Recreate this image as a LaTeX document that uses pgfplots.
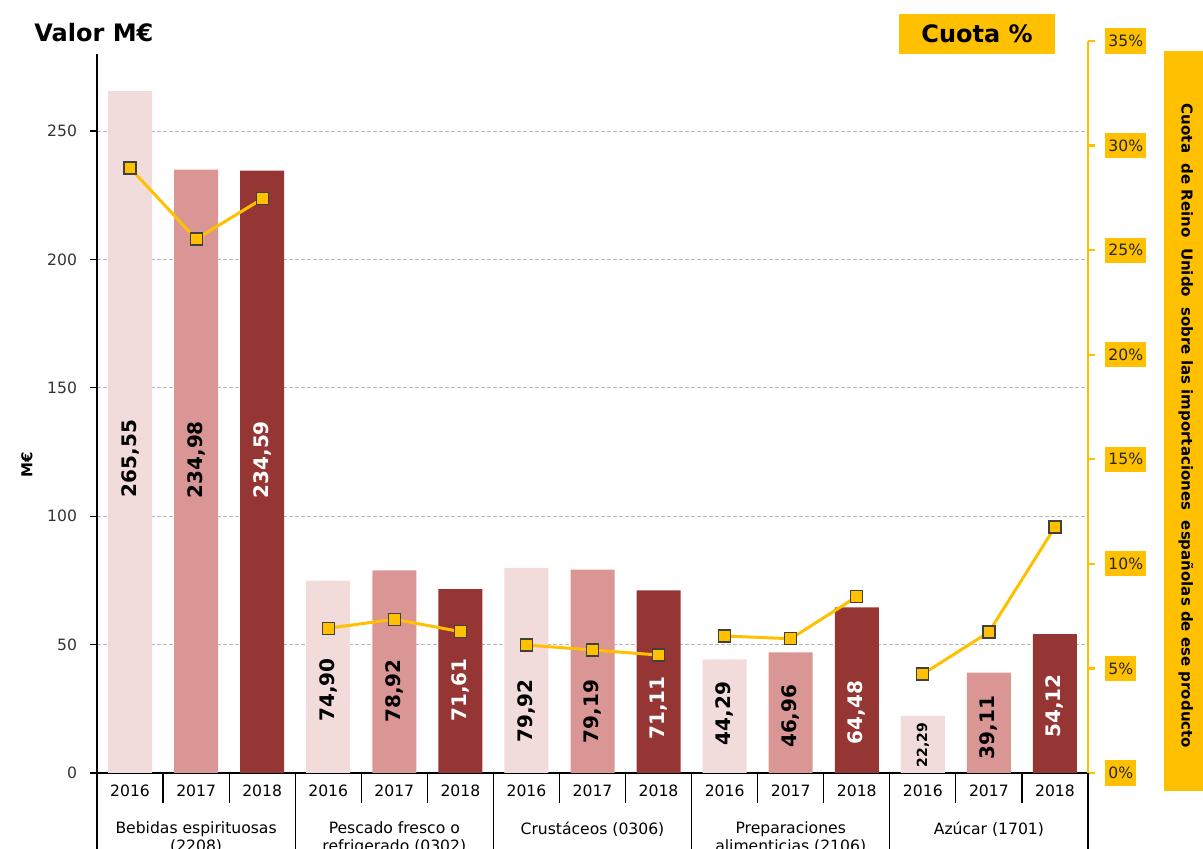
\documentclass[border=0pt]{standalone}
\usepackage{fontspec}
\setmainfont{DejaVu Sans}
\usepackage{pgfplots}
\pgfplotsset{compat=1.18}
\definecolor{c16}{HTML}{F2DCDB}
\definecolor{c17}{HTML}{DA9694}
\definecolor{c18}{HTML}{963634}
\definecolor{gold}{HTML}{FFC000}
\newcommand{\tickfont}{\fontsize{7.8}{9}\selectfont}
\pgfplotsset{share/.style={gold, line width=1.5pt,
    mark=square*, mark size=3pt,
    mark options={fill=gold, draw=black!75, line width=0.6pt, solid}}}

\begin{document}
\begin{tikzpicture}[x=0.5pt,y=0.5pt]
% main axis: values in M€
\begin{axis}[
  at={(48.5pt,38pt)}, anchor=south west,
  scale only axis, width=495.5pt, height=359.5pt,
  xmin=-0.5, xmax=14.5, ymin=0, ymax=280,
  axis x line*=bottom, axis y line*=left,
  axis line style={black, line width=0.6pt, -},
  xtick={0,...,14},
  xticklabels={2016,2017,2018,2016,2017,2018,2016,2017,2018,2016,2017,2018,2016,2017,2018},
  major x tick style={draw=none},
  ytick={0,50,100,150,200,250},
  yticklabels={0,50,100,150,200,250},
  tick align=outside, major tick length=3.5pt,
  y tick style={black, line width=0.6pt},
  ymajorgrids, grid style={dash pattern=on 2pt off 1pt, gray!55, line width=0.4pt},
  tick label style={font=\tickfont},
  yticklabel style={text=black!80, xshift=-3pt},
  xticklabel style={yshift=1pt},
  clip=false,
]
\addplot[ybar, bar width=22pt, bar shift=0pt, fill=c16, draw=none]
  coordinates {(0,265.55)(3,74.90)(6,79.92)(9,44.29)(12,22.29)};
\addplot[ybar, bar width=22pt, bar shift=0pt, fill=c17, draw=none]
  coordinates {(1,234.98)(4,78.92)(7,79.19)(10,46.96)(13,39.11)};
\addplot[ybar, bar width=22pt, bar shift=0pt, fill=c18, draw=none]
  coordinates {(2,234.59)(5,71.61)(8,71.11)(11,64.48)(14,54.12)};
% value labels
\addplot[draw=none, mark=none, nodes near coords, point meta=explicit symbolic,
  nodes near coords style={rotate=90, anchor=center, text=black,
    font=\bfseries\fontsize{10}{12}\selectfont}]
  table[meta=lab] {
x y lab
0 122.5 265,55
1 122 234,98
3 32.3 74,90
4 32 78,92
6 24.1 79,92
7 23.9 79,19
9 23.2 44,29
10 22.1 46,96
13 17.7 39,11
};
\addplot[draw=none, mark=none, nodes near coords, point meta=explicit symbolic,
  nodes near coords style={rotate=90, anchor=center, text=white,
    font=\bfseries\fontsize{10}{12}\selectfont}]
  table[meta=lab] {
x y lab
2 122 234,59
5 32.3 71,61
8 25.3 71,11
11 23.6 64,48
14 26.1 54,12
};
\addplot[draw=none, mark=none, nodes near coords, point meta=explicit symbolic,
  nodes near coords style={rotate=90, anchor=center, text=black,
    font=\bfseries\fontsize{7}{9}\selectfont}]
  table[meta=lab] {
x y lab
12 10.9 22,29
};
\end{axis}

% secondary axis: share in %
\begin{axis}[
  at={(48.5pt,38pt)}, anchor=south west,
  scale only axis, width=495.5pt, height=366pt,
  xmin=-0.5, xmax=14.5, ymin=0, ymax=35,
  axis x line=none, axis y line*=right,
  axis line style={gold, line width=1.2pt, -},
  ytick={0,5,...,35},
  yticklabels={0\%,5\%,10\%,15\%,20\%,25\%,30\%,35\%},
  tick align=outside, major tick length=3.5pt,
  y tick style={gold, line width=1.2pt},
  yticklabel style={font=\tickfont, fill=gold, text=black!85,
    inner xsep=1.5pt, minimum height=10pt, anchor=west, xshift=5pt},
  clip=false,
]
\addplot[share] coordinates {(0,28.93)(1,25.53)(2,27.45)};
\addplot[share] coordinates {(3,6.92)(4,7.35)(5,6.76)};
\addplot[share] coordinates {(6,6.12)(7,5.88)(8,5.64)};
\addplot[share] coordinates {(9,6.55)(10,6.42)(11,8.43)};
\addplot[share] coordinates {(12,4.73)(13,6.74)(14,11.76)};
\end{axis}

% category table under the axis
\foreach \k in {1,2,4,5,7,8,10,11,13,14}
  \draw[black, line width=0.6pt] (97+\k*66.0667,76) -- ++(0,-30);
\foreach \k in {0,3,6,9,12,15}
  \draw[black, line width=0.6pt] (97+\k*66.0667,76) -- ++(0,-90);
\begin{scope}[every node/.style={font=\tickfont, align=center, text=black}]
  \node[anchor=north] at (196.1,34) {Bebidas espirituosas\\(2208)};
  \node[anchor=north] at (394.3,34) {Pescado fresco o\\refrigerado (0302)};
  \node[anchor=north] at (592.5,34) {Crustáceos (0306)};
  \node[anchor=north] at (790.7,34) {Preparaciones\\alimenticias (2106)};
  \node[anchor=north] at (988.9,34) {Azúcar (1701)};
\end{scope}

% titles
\node[anchor=west, inner sep=0pt, font=\bfseries\fontsize{12}{14}\selectfont] at (34,816) {Valor M€};
\node[rotate=90, font=\bfseries\fontsize{7.5}{9}\selectfont] at (27,384) {M€};
\fill[gold] (899,795) rectangle (1055,835);
\node[font=\bfseries\fontsize{12}{14}\selectfont] at (977,815) {Cuota \%};
\fill[gold] (1164,58) rectangle (1215,798);
\node[rotate=-90, font=\bfseries\fontsize{7.5}{9}\selectfont] at (1186,423)
  {Cuota \ de Reino \ Unido \ sobre las importaciones \ españolas de ese producto};

\pgfresetboundingbox
\useasboundingbox (0,0) rectangle (1203,849);
\end{tikzpicture}
\end{document}
